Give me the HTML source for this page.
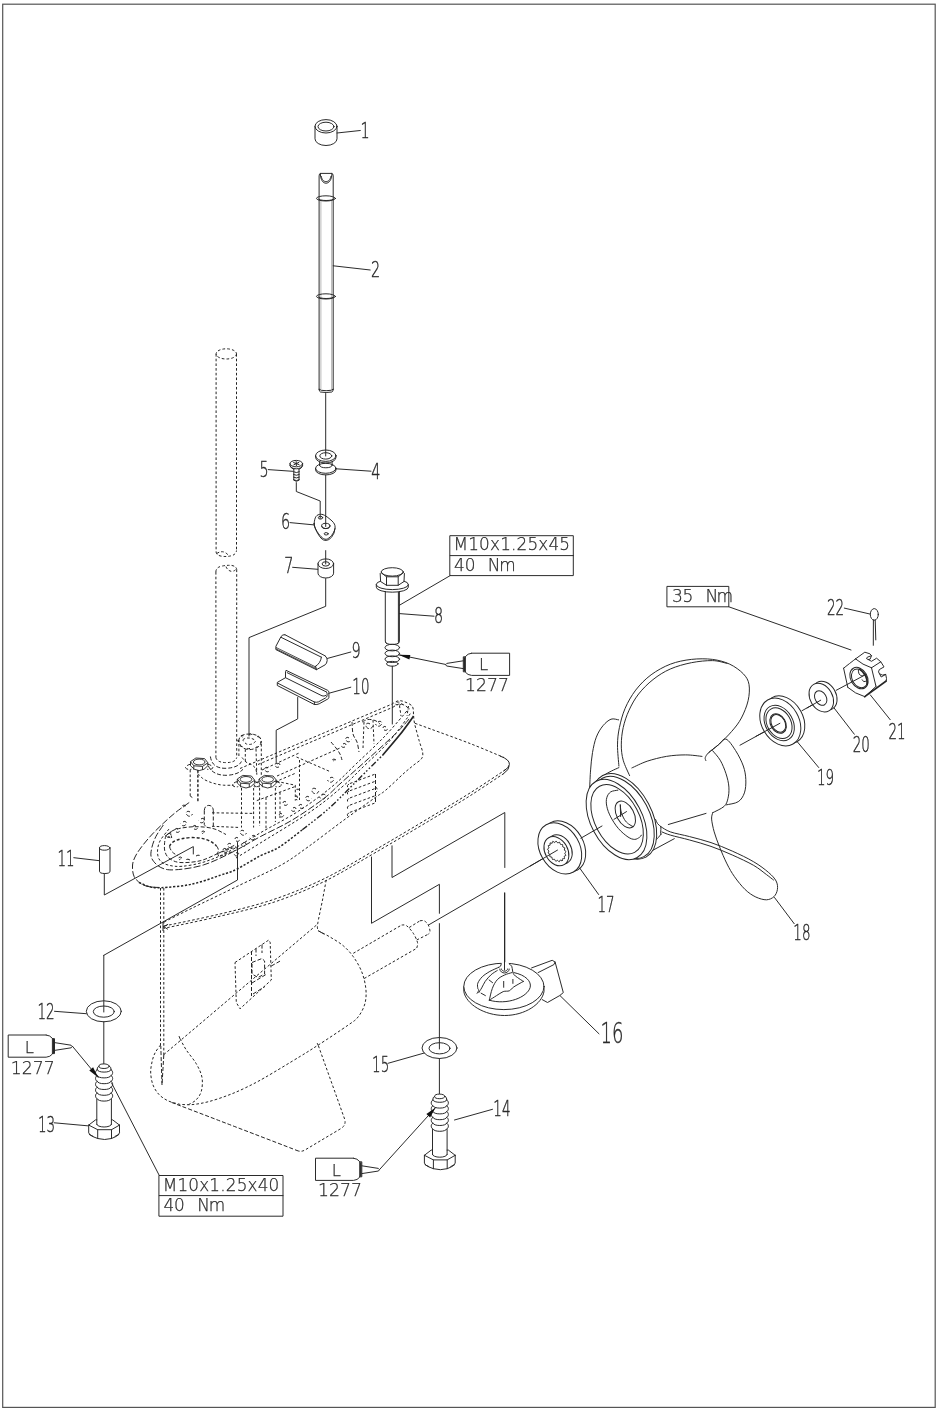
<!DOCTYPE html>
<html><head><meta charset="utf-8"><title>Lower unit exploded view</title>
<style>
html,body{margin:0;padding:0;background:#fff}
svg{display:block}
.s path,.s ellipse{fill:none;stroke:#262626;stroke-width:.98;stroke-linecap:round;stroke-linejoin:round}
.d path,.d ellipse{fill:none;stroke:#242424;stroke-width:1;stroke-dasharray:2.6 2.1}
.n{font-family:'DejaVu Sans Light','Liberation Sans',sans-serif;fill:#2a2a2a;stroke:#2a2a2a;stroke-width:.42;font-weight:200}
.t{font-family:'DejaVu Sans Light','Liberation Sans',sans-serif;fill:#2a2a2a;stroke:#2a2a2a;stroke-width:.25;font-weight:200}
.tx{opacity:.999}
</style></head><body>
<svg width="937" height="1409" viewBox="0 0 937 1409">
<rect x="0" y="0" width="937" height="1409" fill="#fff"/>
<rect x="2.7" y="4.2" width="932.5" height="1403.2" fill="none" stroke="#555" stroke-width="1.2"/>
<g class="d">
<ellipse cx="226.3" cy="353.9" rx="10.2" ry="5.1"/>
<path d="M216.1 354L216.1 552"/>
<path d="M236.5 354L236.5 550.5"/>
<path d="M216.05 552Q216.6 555.4 221.5 556.2Q227 557 232 555.6Q236.3 554 236.5 550.5"/>
<path d="M216.8 553.5Q221 550.6 225 552.4Q227.6 554 229 556"/>
<path d="M215.9 572Q215.9 567.6 221 566.3Q226.5 565 231.5 565.4Q236.3 566.2 236.7 569.5"/>
<path d="M226 566.6Q227.5 570.5 231.2 571.3Q235.6 571.4 236.3 568"/>
<path d="M215.9 572L215.9 757.5"/>
<path d="M236.7 569.5L236.7 757.5"/>
<path d="M215.9 757.5Q217 762.6 226.3 762.6Q235.6 762.6 236.7 757.5"/>
<path d="M210.4 756.5Q212 768.8 226.4 768.3Q238.5 767.6 241.4 761.5" style="stroke-dasharray:4 2"/>
<path d="M208.4 766Q213 775.6 227 775.3Q238 774.6 243 769.3" style="stroke-dasharray:4 2"/>
<path d="M197.9 773.7C198.7 774.5 200.8 777 202.5 778.3C204.2 779.6 206 780.5 208.2 781.4C210.4 782.3 212.9 783.2 215.5 783.8C218.1 784.4 220.4 785 223.5 785.2C226.6 785.4 232.1 785.2 233.8 785.2"/>
<path d="M197.9 770L197.9 801.8"/>
<path d="M207.9 762.8L202.5 766.4L193.8 765.8L190.5 761.6L195.9 758L204.6 758.6Z" style="stroke-dasharray:none;stroke-width:.9"/>
<path d="M190.5 761.6V765.7Q193.9 770.4 199.2 770.6Q204.5 770.4 207.9 765.7V762.8" style="stroke-dasharray:none;stroke-width:.9"/>
<path d="M193.8 765.8V769.8M202.5 766.4V769.8" style="stroke-dasharray:none;stroke-width:.9"/>
<ellipse cx="199.2" cy="762" rx="5.8" ry="2.9" style="stroke-dasharray:none;stroke-width:.9"/>
<path d="M190.9 764.2q-4 .5 -5.5 3.5q2 2.5 6 1.5M207.5 764.2q4 .5 5.5 3.5q-2 2.5 -6 1.5" style="stroke-dasharray:4 2"/>
<path d="M254.7 780.2L249.3 783.8L240.6 783.2L237.3 779L242.7 775.4L251.4 776Z" style="stroke-dasharray:none;stroke-width:.9"/>
<path d="M237.3 779V783.1Q240.7 787.8 246 788Q251.3 787.8 254.7 783.1V780.2" style="stroke-dasharray:none;stroke-width:.9"/>
<path d="M240.6 783.2V787.2M249.3 783.8V787.2" style="stroke-dasharray:none;stroke-width:.9"/>
<ellipse cx="246" cy="779.4" rx="5.8" ry="2.9" style="stroke-dasharray:none;stroke-width:.9"/>
<path d="M237.7 781.6q-4 .5 -5.5 3.5q2 2.5 6 1.5M254.3 781.6q4 .5 5.5 3.5q-2 2.5 -6 1.5" style="stroke-dasharray:4 2"/>
<path d="M276.4 780.2L271 783.8L262.3 783.2L259 779L264.4 775.4L273.1 776Z" style="stroke-dasharray:none;stroke-width:.9"/>
<path d="M259 779V783.1Q262.4 787.8 267.7 788Q273 787.8 276.4 783.1V780.2" style="stroke-dasharray:none;stroke-width:.9"/>
<path d="M262.3 783.2V787.2M271 783.8V787.2" style="stroke-dasharray:none;stroke-width:.9"/>
<ellipse cx="267.7" cy="779.4" rx="5.8" ry="2.9" style="stroke-dasharray:none;stroke-width:.9"/>
<path d="M259.4 781.6q-4 .5 -5.5 3.5q2 2.5 6 1.5M276 781.6q4 .5 5.5 3.5q-2 2.5 -6 1.5" style="stroke-dasharray:4 2"/>
<path d="M190.2 769.8L190.2 796"/>
<path d="M197.9 770.5L197.9 801.8"/>
<path d="M241.5 788L241.5 827.5"/>
<path d="M253.6 788L253.6 827.5"/>
<path d="M259.6 788L259.6 826"/>
<path d="M275.4 788L275.4 822"/>
<path d="M190.2 796l3.5 2.5"/>
<path d="M238.9 741.6C238.6 739.8 239.3 737.7 240.5 736.5C241.7 735.3 243.8 734.6 246 734.2C248.2 733.9 251.2 733.9 253.5 734.4C255.8 734.9 258.2 735.7 259.5 737C260.8 738.3 261.6 740.3 261.3 742C261.1 743.7 259.9 745.7 258 747C256.1 748.3 252.6 749.5 250 749.6C247.4 749.7 244.3 748.8 242.5 747.5C240.7 746.2 239.2 743.4 238.9 741.6Z" style="stroke-dasharray:4 2"/>
<path d="M243 740C243.1 739 245.5 738.2 247 738C248.5 737.8 250.6 738.1 252 738.6C253.4 739.1 255.5 740.1 255.5 741C255.5 741.9 253.5 743.5 252 744C250.5 744.5 248 744.7 246.5 744C245 743.3 242.9 741 243 740Z"/>
<path d="M260.6 741.8q0.7 -1.2 -0 1.6" style="stroke-dasharray:4 2"/>
<path d="M257.5 746.5q0.1 0.1 -2 1.1" style="stroke-dasharray:4 2"/>
<path d="M250 748.4q-1.5 0.6 -2.8 0" style="stroke-dasharray:4 2"/>
<path d="M242.5 746.5q-3.1 0.1 -2 -1.1" style="stroke-dasharray:4 2"/>
<path d="M239.4 741.8q-3.7 -1.2 -0 -1.6" style="stroke-dasharray:4 2"/>
<path d="M242.5 737.1q-3.1 -2.5 2 -1.1" style="stroke-dasharray:4 2"/>
<path d="M250 735.2q-1.5 -3 2.8 -0" style="stroke-dasharray:4 2"/>
<path d="M257.5 737.1q0.1 -2.5 2 1.1" style="stroke-dasharray:4 2"/>
<path d="M245.3 749.3L245.3 762"/>
<path d="M256 749L256.8 774.5"/>
<path d="M261.3 744L261.3 776"/>
<path d="M238.9 744L238.9 757"/>
<path d="M242 757.5C242.7 758.2 244.4 760.8 246 762C247.6 763.2 249.9 763.5 251.5 764.6C253.1 765.7 254.7 766.9 255.6 768.5C256.5 770.1 256.6 773.5 256.8 774.5"/>
<path d="M212 812.8L253 813.4"/>
<path d="M212 826.3L240.2 827.5"/>
<path d="M204.3 810.5Q204.6 805.6 208.8 805.4Q213 805.6 213.3 810.5M204.3 810.5V824.5q1.5 2.5 3.5 3M213.3 810.5V826" style="stroke-dasharray:4 2"/>
<path d="M256.8 800.6L295.3 786.5"/>
<path d="M276.7 781.4L295.3 785.2L295.3 800.6"/>
<path d="M280 792.2L280 818"/>
<path d="M266 797.4L266 830"/>
<path d="M189.2 802.5C186.9 804.2 179.8 809 175.5 812.5C171.2 816 167.3 819.5 163.3 823.3C159.3 827 155.1 831.1 151.5 835C147.9 838.9 144.4 843 141.7 846.7C138.9 850.4 136.5 853.8 135 857C133.5 860.2 132.6 862.7 132.5 866C132.4 869.3 132.7 873.7 134.2 876.7C135.7 879.7 138.9 882.5 141.7 884.2C144.5 885.9 147.7 886.5 151 887C154.3 887.5 159.9 887.4 161.7 887.5" style="stroke-dasharray:7 2.2"/>
<path d="M139 882.5C140.8 883.2 146.2 885.9 150 886.8C153.8 887.7 154.8 888.1 161.7 887.7C168.6 887.3 181.8 886.3 191.7 884.2C201.6 882.1 213.5 877.5 221 875C228.5 872.5 230.2 872.4 236.7 869.2C243.2 866 252.9 859.7 260 856C267.1 852.3 272.1 851.5 279.2 847.1C286.2 842.7 298.4 832.7 302.3 829.8" style="stroke-width:1.5;stroke-dasharray:2.2 1.7"/>
<path d="M302.3 829.8C306.6 826.4 319.8 816.4 327.9 809.3C336 802.2 344.6 793.1 350.7 787.1C356.8 781.1 359.2 778.5 364.5 773.2C369.8 767.9 379.7 758.1 382.7 755.1" style="stroke-width:1.4;stroke-dasharray:6 2 1.6 2 1.6 2 1.6 2"/>
<path d="M382.7 755.1C385.6 751.7 394.6 741.3 399.8 734.8C405 728.3 411.3 719.2 413.6 716.1" style="stroke-dasharray:none;stroke-width:1.7"/>
<path d="M163.3 825C162.1 827 157.7 832.8 155.8 836.7C153.9 840.6 152.4 844.7 151.7 848.3C151 851.9 150.2 855.1 151.7 858.3C153.2 861.5 156.9 865.6 160.8 867.5C164.7 869.4 167.9 870.2 175 869.8C182.1 869.4 193.6 868 203.3 865C213 862 223.9 856.4 233.3 851.7C242.8 847 250.2 842 260 836.8C269.8 831.5 281.3 826.6 292 820.2C302.7 813.8 316 804.5 324 798.4C332 792.3 332.5 790.6 340 783.9C347.5 777.2 359.4 766.8 368.8 758.3C378.2 749.8 389.8 739.3 396.6 732.7C403.4 726.1 407.4 720.9 409.5 718.5" style="stroke-dasharray:7 2.2"/>
<path d="M165.8 835C165.6 836.5 164.6 841.2 164.5 844C164.4 846.8 164.2 849.3 165 851.7C165.8 854.1 166.7 856.5 169.2 858.3C171.7 860.1 174.9 862.1 180 862.5C185.1 862.9 193.6 862.3 200 860.8C206.4 859.3 212.5 855.9 218.3 853.3C224.1 850.7 232.2 846.4 235 845" style="stroke-dasharray:4 2"/>
<path d="M169 829C167.5 831 161.9 837.2 160 841C158.1 844.8 157.5 848.8 157.5 852C157.5 855.2 158.2 858.3 160 860.5C161.8 862.7 164.3 864 168 865C171.7 866 176 866.8 182 866.3C188 865.8 196.3 864.4 204 862C211.7 859.6 218.7 856.8 228 852C237.3 847.2 248.3 839.8 260 833C271.7 826.2 286.4 818.9 298.4 811.2C310.3 803.5 322.1 794.8 331.7 786.9C341.3 779 347.1 772.5 356 764C364.9 755.5 376.2 745.2 385 736C393.8 726.8 405 713.1 409 708.5"/>
<path d="M236 858C240 855.5 247.5 851 260 843.2C272.5 835.4 297.5 820.6 311.2 811.2C324.9 801.8 333.5 794.2 342 787C350.5 779.8 354 775.8 362 768C370 760.2 381.8 749.8 390 740.5C398.2 731.2 407.9 716.8 411.5 712"/>
<path d="M240 768.5L391.7 704.2"/>
<path d="M258 764.5L393 707.2"/>
<path d="M262 770L300 752.6"/>
<path d="M277 776L340 748"/>
<path d="M391.7 704.2C392.8 703.6 396.1 701.2 398.3 700.8C400.5 700.4 402.6 701 405 702C407.4 703 411.1 704.2 412.5 706.7C413.9 709.2 413.3 715 413.5 716.7"/>
<path d="M393 707.2C393.9 706.7 396.6 704.5 398.5 704.2C400.4 703.9 402.6 704.3 404.5 705.2C406.4 706.1 409.1 708.8 410 709.5"/>
<ellipse cx="398.5" cy="703.6" rx="3.2" ry="1.5"/>
<path d="M399.5 705.5L401 716"/>
<path d="M408.5 706L407 716"/>
<path d="M169.5 846.5Q172 839 190 837.6Q208 837 216.5 846" style="stroke-width:1.4;stroke-dasharray:3 2"/>
<path d="M169.5 846.5Q171 853 178 855.5M216.5 846Q220 850 217 853.5" style="stroke-dasharray:4 2"/>
<path d="M166.5 835C168.1 834 171.2 830.7 176 829.3C180.8 827.9 188.8 826.8 195 826.7C201.2 826.6 207.8 827.2 213 828.5C218.2 829.8 223.8 833.5 226 834.5" style="stroke-dasharray:4 2"/>
<path d="M166.3 835.6L170.5 831.8L171.8 838.5Z"/>
<path d="M217.5 853.5L236 846.8L236.5 850L219 856.8Z"/>
<path d="M190 812c-2.5 -2 -5 0.5 -3 3c1.5 2 4.5 1.5 5.5 -1" style="stroke-dasharray:4 2"/>
<path d="M183 822c2.2 -1.8 4.5 0.5 2.7 2.7c-1.4 1.8 -4 1.4 -5 -0.9" style="stroke-dasharray:4 2"/>
<path d="M196 826c-2 -1.6 -4 0.4 -2.4 2.4c1.2 1.6 3.6 1.2 4.4 -0.8" style="stroke-dasharray:4 2"/>
<path d="M201 819c2.2 -1.8 4.5 0.5 2.7 2.7c-1.4 1.8 -4 1.4 -5 -0.9" style="stroke-dasharray:4 2"/>
<path d="M178 829c-2 -1.6 -4 0.4 -2.4 2.4c1.2 1.6 3.6 1.2 4.4 -0.8" style="stroke-dasharray:4 2"/>
<path d="M168 834c2 -1.6 4 0.4 2.4 2.4c-1.2 1.6 -3.6 1.2 -4.4 -0.8" style="stroke-dasharray:4 2"/>
<path d="M244 831c-2.5 -2 -5 0.5 -3 3c1.5 2 4.5 1.5 5.5 -1" style="stroke-dasharray:4 2"/>
<path d="M252 836c2.2 -1.8 4.5 0.5 2.7 2.7c-1.4 1.8 -4 1.4 -5 -0.9" style="stroke-dasharray:4 2"/>
<path d="M238 838c-2 -1.6 -4 0.4 -2.4 2.4c1.2 1.6 3.6 1.2 4.4 -0.8" style="stroke-dasharray:4 2"/>
<path d="M231 844c-2.2 -1.8 -4.5 0.5 -2.7 2.7c1.4 1.8 4 1.4 5 -0.9" style="stroke-dasharray:4 2"/>
<path d="M243 843c2 -1.6 4 0.4 2.4 2.4c-1.2 1.6 -3.6 1.2 -4.4 -0.8" style="stroke-dasharray:4 2"/>
<path d="M226 849c-2 -1.6 -4 0.4 -2.4 2.4c1.2 1.6 3.6 1.2 4.4 -0.8" style="stroke-dasharray:4 2"/>
<path d="M236 853c1.8 -1.4 3.5 0.3 2.1 2.1c-1 1.4 -3.1 1 -3.8 -0.7" style="stroke-dasharray:4 2"/>
<path d="M316 789c-2.8 -2.2 -5.5 0.6 -3.3 3.3c1.7 2.2 5 1.7 6.1 -1.1" style="stroke-dasharray:4 2"/>
<path d="M322 795c2.5 -2 5 0.5 3 3c-1.5 2 -4.5 1.5 -5.5 -1" style="stroke-dasharray:4 2"/>
<path d="M309 797c-2.2 -1.8 -4.5 0.5 -2.7 2.7c1.4 1.8 4 1.4 5 -0.9" style="stroke-dasharray:4 2"/>
<path d="M330 778c2.5 -2 5 0.5 3 3c-1.5 2 -4.5 1.5 -5.5 -1" style="stroke-dasharray:4 2"/>
<path d="M302 805c-2 -1.6 -4 0.4 -2.4 2.4c1.2 1.6 3.6 1.2 4.4 -0.8" style="stroke-dasharray:4 2"/>
<path d="M370 724c-2.8 -2.2 -5.5 0.6 -3.3 3.3c1.7 2.2 5 1.7 6.1 -1.1" style="stroke-dasharray:4 2"/>
<path d="M378 722c2.5 -2 5 0.5 3 3c-1.5 2 -4.5 1.5 -5.5 -1" style="stroke-dasharray:4 2"/>
<path d="M386 727c-2 -1.6 -4 0.4 -2.4 2.4c1.2 1.6 3.6 1.2 4.4 -0.8" style="stroke-dasharray:4 2"/>
<path d="M349 738c-2.2 -1.8 -4.5 0.5 -2.7 2.7c1.4 1.8 4 1.4 5 -0.9" style="stroke-dasharray:4 2"/>
<path d="M343 744c2 -1.6 4 0.4 2.4 2.4c-1.2 1.6 -3.6 1.2 -4.4 -0.8" style="stroke-dasharray:4 2"/>
<path d="M268 768c-2.2 -1.8 -4.5 0.5 -2.7 2.7c1.4 1.8 4 1.4 5 -0.9" style="stroke-dasharray:4 2"/>
<path d="M277 764c2 -1.6 4 0.4 2.4 2.4c-1.2 1.6 -3.6 1.2 -4.4 -0.8" style="stroke-dasharray:4 2"/>
<path d="M286 802c-2 -1.6 -4 0.4 -2.4 2.4c1.2 1.6 3.6 1.2 4.4 -0.8" style="stroke-dasharray:4 2"/>
<path d="M293 808c2 -1.6 4 0.4 2.4 2.4c-1.2 1.6 -3.6 1.2 -4.4 -0.8" style="stroke-dasharray:4 2"/>
<path d="M282 814c-1.8 -1.4 -3.5 0.3 -2.1 2.1c1 1.4 3.1 1 3.8 -0.7" style="stroke-dasharray:4 2"/>
<path d="M182 858q-2.3 -2.4 -3.7 0.4q0.9 2.6 2.3 0.2" style="stroke-dasharray:4 2"/>
<path d="M190 860q-2.2 -1.5 -3.6 -0.5q0.9 1.7 2.2 -0.3" style="stroke-dasharray:4 2"/>
<path d="M196 856q2.1 -1.3 3.4 -0.7q-0.9 1.5 -2.1 -0.3" style="stroke-dasharray:4 2"/>
<path d="M205 832q-2.3 -2.3 -3.7 0.3q0.9 2.5 2.3 0.2" style="stroke-dasharray:4 2"/>
<path d="M186 806q-2.4 -1.9 -3.8 -0.1q1 2.1 2.4 -0" style="stroke-dasharray:4 2"/>
<path d="M300 790q-2 -1.3 -3.3 -0.7q0.8 1.5 2 -0.4" style="stroke-dasharray:4 2"/>
<path d="M296 797q1 -3.3 1.5 1.3q-0.4 3.5 -1 0.7" style="stroke-dasharray:4 2"/>
<path d="M336 760q-2.4 -1.9 -3.8 -0.1q1 2.1 2.4 -0.1" style="stroke-dasharray:4 2"/>
<path d="M331 742C331.8 743 334.5 746 336 748C337.5 750 339 752 340 754C341 756 341.7 759 342 760" style="stroke-dasharray:4 2"/>
<path d="M352 722C352.2 724 352.2 730.7 353 734C353.8 737.3 356 739 357 742C358 745 358.7 750.3 359 752" style="stroke-dasharray:4 2"/>
<path d="M364 722L363 748"/>
<path d="M373 720L374 744"/>
<path d="M362 722C363 721.6 365.8 719.8 368 719.5C370.2 719.2 373 719.8 375 720.5C377 721.2 379.2 723.4 380 724" style="stroke-dasharray:4 2"/>
<path d="M299.5 760L299.5 800"/>
<path d="M296.5 757L331 772"/>
<path d="M275 782L296 773"/>
<path d="M413.6 716.1C413.8 717.5 413.8 720.2 414.7 724.2C415.6 728.2 417.7 734.9 419 740.2C420.3 745.5 423.7 752 422.7 756.2C421.7 760.4 416.1 762.8 413 765.6C409.9 768.4 408.5 769.1 404 773.2C399.5 777.3 390.7 785.9 385.9 790C381.1 794.1 382.4 792.4 375 797.7C367.6 803 352.8 813.5 341.7 821.7C330.6 829.9 318.4 839.5 308.3 846.7C298.2 853.9 292.6 858.6 281.2 865C269.8 871.4 254.9 877.8 240 885C225.1 892.2 204.4 902.1 191.7 908.3C178.9 914.5 168.2 920 163.5 922.3"/>
<path d="M349 783.9q-3.4 2.2 0 4.6" style="stroke-dasharray:4 2"/>
<path d="M350 783.5L375.5 774"/>
<path d="M349 791.1q-3.4 2.2 0 4.6" style="stroke-dasharray:4 2"/>
<path d="M350 790.7L375.5 781.2"/>
<path d="M349 798.3q-3.4 2.2 0 4.6" style="stroke-dasharray:4 2"/>
<path d="M350 797.9L375.5 788.4"/>
<path d="M349 805.5q-3.4 2.2 0 4.6" style="stroke-dasharray:4 2"/>
<path d="M350 805.1L375.5 795.6"/>
<path d="M349 812.7q-3.4 2.2 0 4.6" style="stroke-dasharray:4 2"/>
<path d="M350 812.3L375.5 802.8"/>
<path d="M375.5 774V803" style="stroke-dasharray:4 2"/>
<path d="M375.7 787q3 2.6 0 5.4"/>
<path d="M415 723.3C417.7 724.3 422 725.8 431.2 729.2C440.4 732.6 457.9 738.8 470 743.5C482.1 748.2 498.3 755.2 504 757.5"/>
<path d="M500 756Q509.8 759.6 509.4 764.4Q509 768 503.5 771M509.2 765.6Q509.4 769.6 503.6 773.6" style="stroke-dasharray:none"/>
<path d="M505.5 769.7C499.6 773.6 482.4 785.2 470 793C457.6 800.8 447 807.2 431.2 816.7C415.4 826.2 392.7 839.7 375 850C357.3 860.3 341.7 870.1 325 878.3C308.3 886.5 292.5 893 275 899C257.5 905 238.7 909.5 220 914C201.3 918.5 172.5 924.2 163 926.3"/>
<path d="M504 773.4C498.3 777.1 482.1 788.1 470 795.8C457.9 803.5 447 810.1 431.2 819.6C415.4 829.1 392.7 842.5 375 852.8C357.3 863 341.7 872.9 325 881.1C308.3 889.3 292.5 895.9 275 901.8C257.5 907.6 238.6 911.8 220 916.2C201.4 920.6 173 926.4 163.6 928.4"/>
<path d="M163 922V931" style="stroke-dasharray:none"/>
<path d="M163.5 926.5l4.6 -2.2M163.5 926.5l4.4 2.8" style="stroke-dasharray:none"/>
<path d="M160.5 888L160.5 1046"/>
<path d="M163.8 888L163.8 1055"/>
<path d="M163.8 1055L162 1085L160.8 1046" style="stroke-dasharray:4 2"/>
<path d="M326.2 880C325.6 883.3 323.9 892.6 322.5 900C321.1 907.4 318.3 919.4 317.6 924.5C316.9 929.6 318.2 929.8 318.3 930.8"/>
<path d="M318.3 930.8l6 3.4" style="stroke-dasharray:none"/>
<path d="M163.8 1054.6L317.5 924.2"/>
<path d="M318.3 930.8C320.2 931.8 325.8 934.5 330 937C334.2 939.5 339.4 942.5 343.3 945.8C347.2 949.1 350.2 952.4 353.3 956.7C356.4 961 359.6 966.4 361.7 971.7C363.8 977 365.2 983 365.8 988.3C366.4 993.6 366.2 998.6 365 1003.3C363.8 1008 361.1 1013.1 358.3 1016.7C355.5 1020.3 355 1020.3 348.3 1025C341.6 1029.7 326.4 1039.8 318.3 1045C310.2 1050.2 308.9 1051.1 300 1056.5C291.1 1061.9 274.2 1072.2 265 1077.5C255.8 1082.8 251.2 1085 245 1088C238.8 1091 233.7 1093.2 227.5 1095.5C221.3 1097.8 213.9 1100.3 208 1101.8C202.1 1103.3 196.7 1104.2 192 1104.6C187.3 1105 182 1104.4 180 1104.4"/>
<path d="M160.5 1045C159.6 1046.3 156.4 1050.2 155 1053C153.6 1055.8 152.7 1058.7 152 1062C151.3 1065.3 150.5 1069.2 150.7 1073C150.9 1076.8 151.6 1081.4 153 1085C154.4 1088.6 156.5 1091.9 159 1094.5C161.5 1097.1 164.5 1099.1 168 1100.8C171.5 1102.5 178 1103.8 180 1104.4"/>
<path d="M180 1038.7C181.1 1040.6 183.6 1045.8 186.3 1050C189 1054.2 193.7 1059.2 196.3 1063.8C198.9 1068.4 201.2 1072.9 202 1077.5C202.8 1082.1 202.3 1087.5 201.3 1091.3C200.3 1095 198.1 1097.8 196 1100C193.9 1102.2 189.8 1103.8 188.5 1104.6"/>
<path d="M180 1038.7l-1 -2.6" style="stroke-dasharray:none"/>
<path d="M171.5 1102.4C178.8 1105.2 203.6 1114.6 215 1119C226.4 1123.4 226.3 1123.3 240 1128.6C253.7 1133.8 287.5 1146.8 297 1150.5" style="stroke-dasharray:4 2"/>
<path d="M297 1150.5Q301 1152.3 305 1150L341 1128.5Q346.5 1125 344.6 1119L318.3 1045.5"/>
<path d="M318.3 1045.5l-1.6 -3.4"/>
<path d="M235 962.5L268.8 940L270.2 942.5L271.3 980L240 1008.8L236.3 1002.5Z"/>
<path d="M251.5 951V996M256 948.5V956M262 944.6V953" style="stroke-dasharray:4 2"/>
<path d="M252 962.5L262 958.5L264.6 961L264.6 974L258 977.5L252 974Z" style="stroke-dasharray:4 2"/>
<path d="M252 983l14 -8.5M253 994l12 -7.5M271.3 966l10 -5.6" style="stroke-dasharray:4 2"/>
<path d="M353.3 953.3L401.7 925"/>
<path d="M401.7 925C402.5 925.1 404.8 924.4 406.7 925.8C408.6 927.2 411.5 930.5 413.3 933.3C415.1 936.1 416.9 940 417.5 942.5C418.1 945 416.8 947.3 416.7 948.3"/>
<path d="M364.2 978.5L416.7 948.3"/>
<path d="M409.2 927.5L420 920.8"/>
<path d="M420 920.8C420.7 920.8 422.8 920.1 424.2 920.8C425.6 921.5 427.3 923.2 428.3 925C429.3 926.8 430 930.2 430 931.7C430 933.2 428.6 933.8 428.3 934.2"/>
<path d="M416.7 940L428.3 934.2"/>
</g>
<g class="s">
<ellipse cx="326" cy="126.3" rx="11" ry="6.7"/>
<ellipse cx="326" cy="126.6" rx="8" ry="4.4"/>
<path d="M315 126.3V138.8A11 6.7 0 0 0 337 138.8V126.3"/>
<path d="M337 133L360.3 130.5"/>
<path d="M320.3 173.4H331.9"/>
<path d="M319.1 389.5V176Q319.1 173.4 320.3 173.4"/>
<path d="M333.2 389.5V176Q333.2 173.4 331.9 173.4"/>
<path d="M320.4 174.2C320.6 180 323 183.2 326 183.2C329 183.2 331.6 180 331.9 174.2"/>
<path d="M321.3 176.5C322 180 323.8 181.6 326 181.6C328.3 181.6 330.2 180 330.9 176.5"/>
<path d="M320.9 201V389M331.6 201V389" style="stroke:#888;stroke-width:.6"/>
<ellipse cx="326" cy="198.4" rx="9.5" ry="2.6"/>
<path d="M318.5 199 A7.6 1.5 0 0 0 333.7 199"/>
<ellipse cx="326" cy="296.4" rx="9.5" ry="2.6"/>
<path d="M318.5 297 A7.6 1.5 0 0 0 333.7 297"/>
<path d="M319.1 389.3A7.1 1.6 0 0 0 333.2 389.3"/>
<path d="M319.1 389.5Q319.4 391.8 320.4 392A8 1.4 0 0 0 331.9 392Q333 391.8 333.2 389.5"/>
<path d="M333.2 265.8L370.2 270"/>
<path d="M325.7 393.5L325.7 456"/>
<ellipse cx="325.8" cy="455.7" rx="10.2" ry="5.7"/>
<ellipse cx="325.8" cy="455.9" rx="6" ry="3.2"/>
<path d="M315.6 455.7V457.3A10.2 5.7 0 0 0 336 457.3V455.7"/>
<path d="M319.6 462V465.5"/>
<path d="M332.1 462V465.5"/>
<path d="M319.6 465.5A6.3 2.6 0 0 0 332.1 465.5"/>
<ellipse cx="325.8" cy="468.3" rx="10.2" ry="5"/>
<path d="M315.6 468.3V469.9A10.2 5 0 0 0 336 469.9V468.3"/>
<path d="M336 468.8L371 471.2"/>
<path d="M325.7 475L325.7 526.5"/>
<ellipse cx="296.3" cy="463.6" rx="6.3" ry="3.2"/>
<path d="M290 463.6V465.6Q291 468.6 293.8 469.2"/>
<path d="M302.6 463.6V465.6Q301.6 468.6 299 469.2"/>
<path d="M290 465.6A6.3 3.2 0 0 0 302.6 465.6"/>
<path d="M293.8 469.2V480.2Q296.3 482.4 299 480.2V469.2"/>
<path d="M293.5 471.8Q296.4 473.5 299.3 471.8"/>
<path d="M293.5 474.5Q296.4 476.2 299.3 474.5"/>
<path d="M293.5 477.2Q296.4 478.9 299.3 477.2"/>
<path d="M293.5 479.8Q296.4 481.5 299.3 479.8"/>
<path d="M293.6 462.6L299 464.6M293.8 464.8L298.8 462.4M296.2 461.6L296.4 465.6"/>
<path d="M268.2 469.6L292.6 471.3"/>
<path d="M296.3 482.6L296.3 491.5L320.2 501L320.2 518.4"/>
<path d="M314.2 523.5C314.2 521.3 314.9 518 316 516.5C317.1 515 318.9 514.3 320.6 514.3C322.3 514.2 323.9 514.8 326 516.2C328.1 517.6 332 520.6 333.5 522.6C335 524.6 335.3 526.4 335 528.5C334.7 530.6 333 533.7 331.5 535.5C330 537.3 327.9 539.1 326.2 539.3C324.4 539.5 322.7 538.2 321 536.6C319.3 535 317.1 531.8 316 529.6C314.9 527.4 314.2 525.7 314.2 523.5Z"/>
<path d="M314.2 523.5V525.2C315 529 318 534.5 321 538.2Q326.2 543.2 331.5 537.3Q334.8 533.5 335 528.5"/>
<ellipse cx="325.8" cy="525.9" rx="4.2" ry="2.6"/>
<path d="M322 526.6A3.8 2 0 0 0 329.6 526.6"/>
<ellipse cx="326.2" cy="533.8" rx="2" ry="1.2"/>
<ellipse cx="320.5" cy="517.7" rx="2.2" ry="1.4"/>
<path d="M290 522.6L314 524.9"/>
<path d="M325.7 550.6L325.7 564"/>
<ellipse cx="325.8" cy="563.7" rx="7.8" ry="4.8"/>
<ellipse cx="325.8" cy="563.9" rx="3.7" ry="2.2"/>
<path d="M318 563.7V573.2A7.8 4.8 0 0 0 333.6 573.2V563.7"/>
<path d="M292.6 567.3L317.8 569.3"/>
<path d="M325.7 578.6L325.7 606.3L249 637.6L249 736"/>
<ellipse cx="392.3" cy="571.9" rx="11" ry="4.2"/>
<path d="M380.2 573.5L380.6 581.5L386.5 585.3L398.2 585.3L404 581.5L404.4 573.5"/>
<path d="M381 572.5L386.5 576.8H398.2L403.6 572.5"/>
<path d="M386.5 576.8L386.5 585.3"/>
<path d="M398.2 576.8L398.2 585.3"/>
<path d="M380.5 581.2Q376.3 582.2 376.3 584.6A16 5 0 0 0 408.3 584.6Q408.3 582.2 404.1 581.2"/>
<path d="M376.3 584.6V587.2A16 5 0 0 0 408.3 587.2V584.6"/>
<path d="M385.3 591.5V641Q385.3 643 386.6 643.6"/>
<path d="M399.4 591.5V641Q399.4 643 398 643.6"/>
<path d="M398.4 592L398.4 642"/>
<path d="M385.8 642.6A6.6 2.2 0 0 0 398.8 642.6"/>
<ellipse cx="392.3" cy="647.6" rx="7.3" ry="3.3"/>
<ellipse cx="392.3" cy="653.4" rx="7.3" ry="3.3"/>
<ellipse cx="392.3" cy="659.2" rx="7.3" ry="3.3"/>
<ellipse cx="392.3" cy="663.8" rx="5.8" ry="2.4"/>
<path d="M392.3 666.2L392.3 724"/>
<path d="M399.5 613.6L434 616.2"/>
<path d="M399.5 605.2L450.2 575.6"/>
<path d="M450.2 535.7H573.3V575.6H450.2ZM450.2 555.6H573.3"/>
<path d="M471.6 653.2L509.6 653.2L509.6 675.4L471.6 675.4Q467.6 675.1 465.4 672.2L465.4 656.6Q467.6 653.5 471.6 653.2"/>
<path d="M465.4 656.8H463.3V671.8H465.4"/>
<path d="M464.3 657.2V671.4" style="stroke-width:1.5;stroke-linecap:butt"/>
<path d="M463.3 660.8L446.8 663.4Q444.6 664.6 446.6 666L463.3 668.6"/>
<path d="M445.4 664.4L398.6 654.8"/>
<path d="M284.9 634.7L325.2 655.9"/>
<path d="M325.2 655.9Q327.6 658 327.2 660.5Q326.8 663.6 325.2 664.8L316.4 669.7L275.9 649.6V646.3L281 636.6Q282.6 634.2 284.9 634.7"/>
<path d="M281.2 637.4L321.4 657.2"/>
<path d="M321.4 657.2Q320.6 663.2 315.6 666.3"/>
<path d="M276.3 647.6L315.8 667M276.1 648.9L316.1 668.5" style="stroke-width:.8"/>
<path d="M315.6 666.3L316.4 669.7"/>
<path d="M327.5 658.4L350.8 652"/>
<path d="M286.4 670.5L327.6 690.3Q329 691 328.9 692.4V697.4Q328.8 698.5 327.8 699L319.2 703.8Q317 704.8 314.4 704.5L277.3 685.5V682.4L285.5 677.7V671.4Q285.5 670.2 286.4 670.5"/>
<path d="M287.2 672.7L326.3 691.9"/>
<path d="M326.3 691.9Q327.2 692.4 327.1 693.6V695.6Q326.8 697.2 325.6 697.9L318.6 701.8Q316.6 702.6 314.4 702L277.8 683.2"/>
<path d="M285.5 677.7L322 695.8Q324 696.6 325.8 695.5"/>
<path d="M314.4 702L314.4 704.5"/>
<path d="M328.8 693.3L350.8 687.2"/>
<path d="M297.7 697.5L297.7 718.9L276.2 730.2L276.2 762.5"/>
<ellipse cx="104.7" cy="847.9" rx="5.2" ry="2.3"/>
<path d="M99.5 847.9V871.2A5.25 2.3 0 0 0 110 871.2V847.9"/>
<path d="M73.8 857.7L99.5 860.7"/>
<path d="M104.3 873.8L104.3 895L193.3 846.6L193.3 854"/>
<ellipse cx="103.8" cy="1011.3" rx="17.5" ry="10.5"/>
<ellipse cx="103.8" cy="1011.6" rx="10.5" ry="5.6"/>
<ellipse cx="439.5" cy="1048" rx="17.5" ry="10.5"/>
<ellipse cx="439.5" cy="1048.3" rx="10.5" ry="5.6"/>
<path d="M54.5 1011.3L86.3 1013.7"/>
<path d="M388 1063.3L424.3 1053"/>
<ellipse cx="104.1" cy="1066.2" rx="5.2" ry="2.3"/>
<path d="M98.9 1066.2Q96.7 1066.8 97.1 1069.8"/>
<path d="M109.3 1066.2Q111.5 1066.8 111.1 1069.8"/>
<path d="M97.1 1069.8A7.2 3 0 0 0 111.1 1069.8"/>
<path d="M97.1 1069.8C94.9 1071 94.9 1074.4 97.1 1075.6"/>
<path d="M111.1 1069.8C113.3 1071 113.3 1074.4 111.1 1075.6"/>
<path d="M97.1 1075.6A7.2 3 0 0 0 111.1 1075.6"/>
<path d="M97.1 1075.6C94.9 1076.8 94.9 1080.2 97.1 1081.4"/>
<path d="M111.1 1075.6C113.3 1076.8 113.3 1080.2 111.1 1081.4"/>
<path d="M97.1 1081.4A7.2 3 0 0 0 111.1 1081.4"/>
<path d="M97.1 1081.4C94.9 1082.6 94.9 1086 97.1 1087.2"/>
<path d="M111.1 1081.4C113.3 1082.6 113.3 1086 111.1 1087.2"/>
<path d="M97.1 1087.2A7.2 3 0 0 0 111.1 1087.2"/>
<path d="M97.1 1087.2C94.9 1088.4 94.9 1091.8 97.1 1093"/>
<path d="M111.1 1087.2C113.3 1088.4 113.3 1091.8 111.1 1093"/>
<path d="M97.1 1093A7.2 3 0 0 0 111.1 1093"/>
<path d="M97.1 1093C94.9 1094.2 94.9 1097.6 97.1 1098.8"/>
<path d="M111.1 1093C113.3 1094.2 113.3 1097.6 111.1 1098.8"/>
<path d="M97.1 1098.8A7.2 3 0 0 0 111.1 1098.8"/>
<path d="M96.8 1099.3V1124.4"/>
<path d="M111.4 1099.3V1124.4"/>
<path d="M96.8 1124.4A7.3 2.6 0 0 0 111.4 1124.4"/>
<path d="M88.7 1125.1L95.5 1119.9H96.8"/>
<path d="M111.4 1119.9H112.7L119.5 1125.1"/>
<path d="M88.7 1125.1L97.7 1129.7H111.5L119.5 1125.1"/>
<path d="M88.7 1125.1V1132.9Q89.6 1135.4 93.1 1136.4"/>
<path d="M119.5 1125.1V1132.9Q118.6 1135.4 115.1 1136.4"/>
<path d="M97.7 1129.7L97.7 1138.5"/>
<path d="M111.5 1129.7L111.5 1138.5"/>
<path d="M89.3 1134.5Q93.1 1137.1 97.7 1138.5Q104.6 1140.5 111.5 1138.5Q115.6 1137.1 118.9 1134.5"/>
<ellipse cx="439.8" cy="1096.4" rx="5.2" ry="2.3"/>
<path d="M434.6 1096.4Q432.4 1097 432.8 1100"/>
<path d="M445 1096.4Q447.2 1097 446.8 1100"/>
<path d="M432.8 1100A7.2 3 0 0 0 446.8 1100"/>
<path d="M432.8 1100C430.6 1101.2 430.6 1104.6 432.8 1105.8"/>
<path d="M446.8 1100C449 1101.2 449 1104.6 446.8 1105.8"/>
<path d="M432.8 1105.8A7.2 3 0 0 0 446.8 1105.8"/>
<path d="M432.8 1105.8C430.6 1107 430.6 1110.4 432.8 1111.6"/>
<path d="M446.8 1105.8C449 1107 449 1110.4 446.8 1111.6"/>
<path d="M432.8 1111.6A7.2 3 0 0 0 446.8 1111.6"/>
<path d="M432.8 1111.6C430.6 1112.8 430.6 1116.2 432.8 1117.4"/>
<path d="M446.8 1111.6C449 1112.8 449 1116.2 446.8 1117.4"/>
<path d="M432.8 1117.4A7.2 3 0 0 0 446.8 1117.4"/>
<path d="M432.8 1117.4C430.6 1118.6 430.6 1122 432.8 1123.2"/>
<path d="M446.8 1117.4C449 1118.6 449 1122 446.8 1123.2"/>
<path d="M432.8 1123.2A7.2 3 0 0 0 446.8 1123.2"/>
<path d="M432.8 1123.2C430.6 1124.4 430.6 1127.8 432.8 1129"/>
<path d="M446.8 1123.2C449 1124.4 449 1127.8 446.8 1129"/>
<path d="M432.8 1129A7.2 3 0 0 0 446.8 1129"/>
<path d="M432.5 1129.5V1154.6"/>
<path d="M447.1 1129.5V1154.6"/>
<path d="M432.5 1154.6A7.3 2.6 0 0 0 447.1 1154.6"/>
<path d="M424.4 1155.3L431.2 1150.1H432.5"/>
<path d="M447.1 1150.1H448.4L455.2 1155.3"/>
<path d="M424.4 1155.3L433.4 1159.9H447.2L455.2 1155.3"/>
<path d="M424.4 1155.3V1163.1Q425.3 1165.6 428.8 1166.6"/>
<path d="M455.2 1155.3V1163.1Q454.3 1165.6 450.8 1166.6"/>
<path d="M433.4 1159.9L433.4 1168.7"/>
<path d="M447.2 1159.9L447.2 1168.7"/>
<path d="M425 1164.7Q428.8 1167.3 433.4 1168.7Q440.3 1170.7 447.2 1168.7Q451.3 1167.3 454.6 1164.7"/>
<path d="M54.1 1122.8L87.6 1125.8"/>
<path d="M454.5 1120L492.5 1109.3"/>
<path d="M103.8 955.3L103.8 1012"/>
<path d="M103.8 1021.6L103.8 1063.5"/>
<path d="M103.8 955.3L237.5 880L237.5 842.5"/>
<path d="M439.4 923.6L439.4 1049"/>
<path d="M439.4 1058.6L439.4 1093.6"/>
<path d="M46.2 1035L8.2 1035L8.2 1057.2L46.2 1057.2Q50.2 1056.9 52.4 1054L52.4 1038.4Q50.2 1035.3 46.2 1035"/>
<path d="M52.4 1038.6H54.5V1053.6H52.4"/>
<path d="M53.5 1039V1053.2" style="stroke-width:1.5;stroke-linecap:butt"/>
<path d="M54.5 1042.6L71 1045.2Q73.2 1046.4 71.2 1047.8L54.5 1050.4"/>
<path d="M72.4 1046.2L98.2 1077.4"/>
<path d="M353.5 1158.2L315.5 1158.2L315.5 1180.4L353.5 1180.4Q357.5 1180.1 359.7 1177.2L359.7 1161.6Q357.5 1158.5 353.5 1158.2"/>
<path d="M359.7 1161.8H361.8V1176.8H359.7"/>
<path d="M360.8 1162.2V1176.4" style="stroke-width:1.5;stroke-linecap:butt"/>
<path d="M361.8 1165.8L378.3 1168.4Q380.5 1169.6 378.5 1171L361.8 1173.6"/>
<path d="M379.7 1169.4L435.6 1107.6"/>
<path d="M159.3 1175.5H283V1216.2H159.3ZM159.3 1195.6H283"/>
<path d="M111.8 1083.4L159.3 1175.5"/>
<path d="M667.3 586.4H728.8V606.8H667.3Z"/>
<path d="M728.8 606.8L851 650"/>
<path d="M392 845.8L392 877.5L504.8 812.5L504.8 867.5"/>
<path d="M504.8 893L504.8 969.5"/>
<path d="M371.5 857L371.5 923.3L439.4 884.3L439.4 913.3"/>
<path d="M428.5 925L557.4 850.2"/>
<ellipse cx="563.8" cy="846.5" rx="27.3" ry="19.8" transform="rotate(60 563.8 846.5)" style="fill:#fff"/>
<ellipse cx="559.8" cy="848.4" rx="27.3" ry="19.8" transform="rotate(60 559.8 848.4)" style="fill:#fff"/>
<ellipse cx="559.8" cy="849.3" rx="15.5" ry="11.3" transform="rotate(60 559.8 849.3)" style="fill:#fff"/>
<ellipse cx="556.4" cy="851.2" rx="15.5" ry="11.3" transform="rotate(60 556.4 851.2)" style="fill:#fff"/>
<path d="M562.2 860.8C561.9 861.1 560.7 859.9 560.2 860.1C559.7 860.2 559.6 861.7 559.2 861.8C558.7 861.8 557.9 860.3 557.4 860.3C556.8 860.2 556.2 861.5 555.8 861.3C555.3 861.1 555 859.6 554.5 859.3C553.9 859 552.9 859.8 552.5 859.5C552.1 859.2 552.3 857.7 551.9 857.2C551.4 856.7 550.1 857.1 549.8 856.6C549.5 856.1 550.2 855 549.9 854.4C549.6 853.8 548.2 853.5 548.1 853C547.9 852.5 549 851.8 548.9 851.1C548.8 850.5 547.5 849.7 547.5 849.2C547.5 848.6 548.9 848.5 549 847.9C549.1 847.3 548 846.1 548.2 845.7C548.4 845.2 549.8 845.6 550.1 845.2C550.4 844.7 549.7 843.2 550.1 842.9C550.4 842.6 551.7 843.5 552.1 843.3C552.6 843 552.4 841.5 552.8 841.3C553.3 841.2 554.2 842.5 554.8 842.5C555.3 842.4 555.6 841 556.1 841.1C556.6 841.2 557.1 842.7 557.7 842.9C558.3 843.1 559.1 842 559.5 842.2C560 842.5 560 844 560.5 844.4C561 844.8 562.2 844.2 562.6 844.6C562.9 845 562.4 846.4 562.8 846.9C563.2 847.5 564.6 847.4 564.8 847.9C565.1 848.5 564.1 849.4 564.3 850C564.5 850.7 565.9 851.2 566 851.7C566.1 852.3 564.8 852.7 564.8 853.3C564.8 853.9 566 854.9 565.9 855.4C565.8 855.9 564.4 855.8 564.2 856.3C564 856.9 564.9 858.2 564.6 858.6C564.3 859 563 858.3 562.6 858.7C562.2 859.1 562.6 860.6 562.2 860.8Z"/>
<path d="M530 866.2L557.5 850.1"/>
<path d="M579.7 868.1L598.6 894.5"/>
<path d="M618.6 719.9C617.3 719.8 613.6 718.2 611 719.2C608.4 720.2 605.5 722.7 603 725.7C600.5 728.7 598 732.7 596.3 737.2C594.5 741.7 593.5 747.2 592.5 752.6C591.5 758 591.1 764.2 590.6 769.9C590.1 775.6 589.9 784.1 589.7 787"/>
<path d="M618.9 766C618.7 762.5 617.4 751.3 617.5 744.9C617.6 738.5 618.1 733.7 619.4 727.6C620.7 721.5 622.4 714.6 625.1 708.4C627.8 702.1 631.4 695.7 635.7 690.1C640 684.5 645.3 679.1 651.1 674.8C656.9 670.5 663.6 666.8 670.3 664.2C677 661.6 684.4 660.2 691.4 659.4C698.4 658.6 706.1 658.6 712.5 659.4C718.9 660.2 724.7 661.8 729.8 664.2C734.9 666.6 740.1 670.4 743.3 673.8C746.5 677.2 748.2 679.9 749 684.4C749.8 688.9 749.4 695.1 748.1 700.7C746.8 706.3 744.1 712.9 741.4 718C738.7 723.1 735.6 726.9 731.7 731.4C727.9 735.9 722.1 741.4 718.3 744.9C714.5 748.4 710.9 750.5 708.7 752.6C706.5 754.7 705.8 756.2 705.3 757.5C704.8 758.8 705.8 760.1 705.9 760.6"/>
<path d="M629.6 775.6C628.5 773 624.6 765.3 623.2 760.2C621.8 755.1 621.3 750.3 621.3 744.9C621.3 739.5 621.9 733.4 623.2 727.6C624.5 721.8 626.4 715.9 629 710.3C631.6 704.7 634.6 699.1 638.6 694C642.6 688.9 647.7 683.8 653 679.6C658.3 675.4 663.9 671.8 670.3 669C676.7 666.2 684.4 664.1 691.4 662.7C698.4 661.3 706.6 660.5 712.5 660.6C718.4 660.7 724.6 662.9 727 663.4"/>
<path d="M589.7 787C590.8 786 593.6 783 596 781C598.4 779 601.4 776.9 604 775.2C606.6 773.5 609 772.3 611.5 771C614 769.7 617.7 768.2 618.9 767.6"/>
<path d="M631.9 767.9C634.5 766.8 641.5 763.1 647.2 761.2C653 759.3 660 757.5 666.4 756.4C672.8 755.3 679.7 754.9 685.6 754.9C691.5 754.9 699.3 756.1 702 756.4"/>
<path d="M712.5 750.6C713.8 752.2 718 756.4 720.2 760.2C722.5 764.1 724.5 769.2 726 773.7C727.5 778.2 728.6 782.9 728.9 787.1C729.2 791.3 728.7 795.5 727.9 798.7C727.1 801.9 726.6 804.1 724.1 806.4C721.6 808.7 714.6 811.7 712.7 812.7"/>
<path d="M708.7 752.6C710.3 751.3 715.4 747.1 718.3 744.9C721.2 742.6 723.1 738.1 726 739.1C728.9 740.1 732.7 746.1 735.6 750.6C738.5 755.1 741.6 761.2 743.3 766C745 770.8 745.6 775 745.8 779.5C746 784 745.7 789.2 744.4 792.9C743.1 796.6 741.2 799.7 738.2 801.7C735.2 803.7 728.5 804.3 726.5 804.8"/>
<path d="M668.3 824.5L706 813.4"/>
<path d="M637.8 858.4L674.3 838.7"/>
<path d="M660.8 826.6C662.4 827.5 665.6 830.2 670.4 831.9C675.2 833.6 682.8 834.8 689.6 836.6C696.4 838.4 703.9 840.2 711 842.6C718.1 845 725.2 847.9 732.3 851.1C739.4 854.3 747.7 858.2 753.7 861.8C759.8 865.4 764.9 869.3 768.6 872.5C772.3 875.7 774.6 878.2 776.1 881C777.6 883.8 777.8 886.9 777.4 889.5C777 892.1 775.8 894.9 774 896.6C772.2 898.3 769.5 899.7 766.5 899.8C763.5 899.9 759.4 898.7 755.8 897C752.2 895.3 748.6 892.9 745.1 889.5C741.6 886.1 737.5 881 734.5 876.7C731.5 872.4 729.5 868.9 727 863.9C724.5 858.9 721.6 852.1 719.5 846.8C717.4 841.5 715.5 836.5 714.2 831.9C712.9 827.3 711.9 822.3 711.6 819.1C711.4 815.9 712.5 813.8 712.7 812.7"/>
<path d="M661.9 831.9C663.3 832.4 665.8 833.8 670.4 835.1C675 836.5 682.8 838.1 689.6 840C696.4 841.9 703.9 843.9 711 846.4C718.1 848.9 725.2 851.8 732.3 855C739.4 858.2 748 862.1 753.7 865.4C759.4 868.7 763.2 872.2 766.5 874.6C769.8 877 772.3 879.1 773.5 880"/>
<path d="M660.8 826.6Q661.2 829.5 660.6 831.9L660.9 834.4"/>
<path d="M660.8 826.6C660.2 826.1 658.4 824.7 657.5 823.5C656.6 822.3 655.9 820.2 655.6 819.5"/>
<path d="M661.2 834C660.8 834.5 659.3 836.4 658.5 837.3C657.7 838.2 656.9 839 656.6 839.4"/>
<ellipse cx="624.3" cy="816.3" rx="46.2" ry="27.3" transform="rotate(62 624.3 816.3)" style="fill:#fff"/>
<ellipse cx="623.1" cy="817.4" rx="44.4" ry="26.2" transform="rotate(62 623.1 817.4)"/>
<ellipse cx="616.5" cy="819.5" rx="43.3" ry="25.6" transform="rotate(62 616.5 819.5)" style="fill:#fff"/>
<ellipse cx="617.1" cy="819.3" rx="37.4" ry="22.1" transform="rotate(62 617.1 819.3)"/>
<path d="M641.4 835.1C641.1 835.5 640.6 836.6 639.5 837.3C638.4 838 636.6 839.4 634.7 839.4C632.8 839.4 630.7 838.8 628 837C625.3 835.2 621.2 831.8 618.3 828.4C615.4 825 612.6 820.6 610.7 816.9C608.8 813.2 607.4 809.5 606.8 806.3C606.1 803.1 606.1 800.1 606.8 797.7C607.4 795.3 608.9 793.1 610.7 791.9C612.6 790.6 616.7 790.5 617.9 790.2"/>
<ellipse cx="625.3" cy="814.5" rx="14.5" ry="8.6" transform="rotate(62 625.3 814.5)"/>
<path d="M620.3 804.9C620.4 806.1 620.5 809.5 621.2 812C621.9 814.5 623.3 817.6 624.5 819.6C625.7 821.6 627.2 822.9 628.6 824C630 825.1 632.1 826.1 632.8 826.5"/>
<path d="M614 819.3L626.5 811.6"/>
<path d="M580.9 838.2L602 826"/>
<path d="M620.3 804.9L620.6 816.5"/>
<path d="M774.5 897.5L794.2 923.7"/>
<path d="M740 745.2L779.9 723.3"/>
<ellipse cx="784.3" cy="719.8" rx="25.4" ry="18.6" transform="rotate(60 784.3 719.8)" style="fill:#fff"/>
<ellipse cx="780.3" cy="722" rx="25.4" ry="18.6" transform="rotate(60 780.3 722)" style="fill:#fff"/>
<ellipse cx="779.2" cy="723" rx="18.9" ry="13.7" transform="rotate(60 779.2 723)"/>
<ellipse cx="779" cy="723.2" rx="16.3" ry="11.8" transform="rotate(60 779 723.2)"/>
<ellipse cx="778.1" cy="723.5" rx="10.4" ry="7.5" transform="rotate(60 778.1 723.5)"/>
<ellipse cx="778.3" cy="723.4" rx="9.4" ry="6.7" transform="rotate(60 778.3 723.4)"/>
<path d="M756 736.3L779.9 723.3"/>
<path d="M802 710.7L820.7 700.2"/>
<path d="M797.5 742L818.7 767.5"/>
<ellipse cx="824.8" cy="695.6" rx="15.3" ry="11.1" transform="rotate(60 824.8 695.6)" style="fill:#fff"/>
<ellipse cx="821.3" cy="697.6" rx="15.3" ry="11.1" transform="rotate(60 821.3 697.6)" style="fill:#fff"/>
<ellipse cx="820.7" cy="698" rx="7.8" ry="5.6" transform="rotate(60 820.7 698)"/>
<path d="M807 708L820.7 700.2"/>
<path d="M836.2 690.3L865.1 674.9"/>
<path d="M834 707.9L854.3 734.2"/>
<path d="M855.5 658.9L864.8 652.2L869.9 653.8L871.5 655.7L867.3 657.2L866.5 658.6L871.5 661.3L876.6 658.2L880.8 661.8L884 666.9L879.3 669.6L878.5 671.9L881.2 677L885.7 674.4L886.5 678.4L886.2 681"/>
<path d="M871.5 655.7L870.1 659.2L868.3 659.5"/>
<path d="M885.7 674.4L882.4 675.1L879.8 673.9"/>
<path d="M871.5 667.8L880.8 661.8"/>
<path d="M864.8 696.7L886.2 681" style="stroke-width:1.6"/>
<path d="M843.6 668.2C845.6 666.6 853.5 660.4 855.5 658.9"/>
<path d="M855.5 658.9Q862.5 665 871.5 667.8"/>
<path d="M871.5 667.8L876 686.4"/>
<path d="M876 686.4L864.8 696.7"/>
<path d="M864.8 696.7Q854.8 693.8 847.8 687.4"/>
<path d="M847.8 687.4L843.6 668.2"/>
<ellipse cx="859" cy="678.1" rx="11.4" ry="8.3" transform="rotate(60 859 678.1)"/>
<ellipse cx="859.4" cy="678.3" rx="10" ry="7.2" transform="rotate(60 859.4 678.3)"/>
<path d="M858.4 670.1C858.5 670.7 858.4 673 859 673.9C859.6 674.9 861 675.7 861.9 675.9C862.8 676 864 674.8 864.4 674.6"/>
<path d="M862.2 679.7C862.5 680 863.1 681.4 863.8 681.6C864.5 681.8 865.9 681.1 866.4 681"/>
<path d="M859.3 669.1Q867 673.9 867.3 684.2" style="stroke-width:1.5"/>
<path d="M870.3 694.9L890.2 719.7"/>
<ellipse cx="874.3" cy="614.4" rx="4" ry="5.8"/>
<path d="M873.4 620L873.3 645.3"/>
<path d="M875.2 620L875.8 639.9"/>
<path d="M844.3 608.1L870.3 614.1"/>
<path d="M531.6 967.9L552.2 960.3L555.1 962L563.3 992.6L559.8 995.5L547.5 1002.5L542.2 999.6"/>
<path d="M538.1 972.6L553.9 964.6L555.1 962"/>
<path d="M463.8 986.5V991.5C466 1004 484 1015.5 504.6 1015.5C525 1015.5 542 1004 544 991.5V986.5" style="fill:#fff"/>
<ellipse cx="503.9" cy="986.4" rx="40.1" ry="23.2" style="fill:#fff"/>
<path d="M501.3 963.3L509.1 963.3" style="stroke:#fff;stroke-width:2.4;stroke-linecap:butt"/>
<path d="M514 972.6C525.7 975 531.6 981.4 530.2 987.3C527.5 997.3 507 1005.5 489.3 1000.2"/>
<path d="M498.7 967.3C497.3 968 492.7 969.9 489.9 971.4C487.2 973 484.3 974.8 482.3 976.7C480.3 978.7 478.6 981.2 477.8 983.2C477.1 985.1 477.7 987.3 477.8 988.5C478 989.6 478.9 989.4 478.8 990.2C478.7 991 477.4 992.8 477.1 993.3"/>
<path d="M497.3 970.5C496.3 971.2 493.1 972.9 491.1 974.7C489.1 976.5 486.8 979.2 485.2 981.4C483.7 983.6 482.8 986 481.7 987.9C480.6 989.7 479.3 991.8 478.8 992.6"/>
<path d="M489.1 980L492.6 982.7M481.1 993.2L485.4 995.6"/>
<path d="M511.9 972.6C510.7 973 507 973.8 504.6 975C502.2 976.1 499.4 977.4 497.3 979.7C495.3 981.9 493.6 985 492.3 988.5C491 991.9 489.8 998.2 489.3 1000.2"/>
<path d="M489.3 1000.2C490.5 999.5 494.1 997.2 496.4 995.7C498.7 994.3 501.1 992.5 503.2 991.6C505.4 990.8 507.5 991.6 509.3 990.8C511.1 990 511.4 988.5 513.8 986.9C516.1 985.4 521.8 982.3 523.4 981.4"/>
<path d="M523.4 981.4C522.4 980.8 519.1 978.7 517.5 977.5C515.9 976.4 514.6 975.6 513.8 974.4C512.9 973.2 512.7 970.9 512.5 970.3"/>
<path d="M503.7 981.4V987.3M512.9 979.4V983.4"/>
<path d="M498.7 967.3C499 967.1 500.1 966.7 500.5 966.2C500.9 965.6 501.2 964.2 501.3 963.8"/>
<path d="M509.1 963.8C509.5 964.2 511.1 965.1 511.7 966.2C512.2 967.2 512.3 969.6 512.5 970.3"/>
<path d="M499.7 969.1C500.5 974.4 508.4 974.4 509.3 969.1"/>
<path d="M501.3 968.9C501.8 972.1 507.2 972.1 507.7 968.9"/>
<path d="M504.5 970L504.5 893"/>
<path d="M560.2 995.8L599 1033.8"/>
</g>
<g>
<path d="M398.6 654.8L410.3 654.9L409.4 659.4Z" fill="#111"/>
<path d="M98.2 1077.4L89.3 1070.5L93.1 1067.3Z" fill="#111"/>
<path d="M435.6 1107.6L430.1 1117.4L426.4 1114.1Z" fill="#111"/>
</g>
<g class="tx">
<text class="n" transform="translate(360.6 138.2) scale(0.7 1)" font-size="20.6">1</text>
<text class="n" transform="translate(371.1 277.3) scale(0.7 1)" font-size="20.6">2</text>
<text class="n" transform="translate(371.3 478.6) scale(0.7 1)" font-size="20.6">4</text>
<text class="n" transform="translate(259.5 477) scale(0.7 1)" font-size="20.6">5</text>
<text class="n" transform="translate(280.9 529.1) scale(0.7 1)" font-size="20.6">6</text>
<text class="n" transform="translate(284.3 573.3) scale(0.7 1)" font-size="20.6">7</text>
<text class="n" transform="translate(434.1 622.9) scale(0.7 1)" font-size="20.6">8</text>
<text class="t" x="453.5" y="550.4" font-size="16.9" textLength="116.6" lengthAdjust="spacing">M10x1.25x45</text>
<text class="t" x="454.1" y="570.8" font-size="16.9" textLength="21.3" lengthAdjust="spacing">40</text>
<text class="t" x="487.8" y="570.8" font-size="16.9" textLength="28" lengthAdjust="spacing">Nm</text>
<text class="t" x="478.9" y="670.2" font-size="16.5" textLength="7.8" lengthAdjust="spacing">L</text>
<text class="t" x="464.9" y="691.2" font-size="17.3" textLength="44.2" lengthAdjust="spacing">1277</text>
<text class="n" transform="translate(351.5 658.3) scale(0.7 1)" font-size="20.6">9</text>
<text class="n" transform="translate(352.3 693.5) scale(0.655 1)" font-size="20.6">10</text>
<text class="n" transform="translate(57.5 866.4) scale(0.655 1)" font-size="20.6">11</text>
<text class="n" transform="translate(37.5 1019.4) scale(0.655 1)" font-size="20.6">12</text>
<text class="n" transform="translate(372.1 1072.4) scale(0.655 1)" font-size="20.6">15</text>
<text class="n" transform="translate(37.9 1132) scale(0.655 1)" font-size="20.6">13</text>
<text class="n" transform="translate(493.3 1116.2) scale(0.655 1)" font-size="20.6">14</text>
<text class="t" x="24.7" y="1052.8" font-size="16.5" textLength="7.8" lengthAdjust="spacing">L</text>
<text class="t" x="10.7" y="1073.8" font-size="17.3" textLength="44" lengthAdjust="spacing">1277</text>
<text class="t" x="331.7" y="1175.6" font-size="16.5" textLength="7.8" lengthAdjust="spacing">L</text>
<text class="t" x="317.9" y="1196.3" font-size="17.3" textLength="44" lengthAdjust="spacing">1277</text>
<text class="t" x="162.7" y="1190.6" font-size="16.9" textLength="116.6" lengthAdjust="spacing">M10x1.25x40</text>
<text class="t" x="163.5" y="1210.8" font-size="16.9" textLength="21.3" lengthAdjust="spacing">40</text>
<text class="t" x="197.2" y="1210.8" font-size="16.9" textLength="28" lengthAdjust="spacing">Nm</text>
<text class="t" x="672.1" y="601.8" font-size="17.1" textLength="21.3" lengthAdjust="spacing">35</text>
<text class="t" x="705.5" y="601.8" font-size="17.1" textLength="27.6" lengthAdjust="spacing">Nm</text>
<text class="n" transform="translate(597.5 911.9) scale(0.655 1)" font-size="20.6">17</text>
<text class="n" transform="translate(793.3 939.9) scale(0.655 1)" font-size="20.6">18</text>
<text class="n" transform="translate(817 785.4) scale(0.655 1)" font-size="20.6">19</text>
<text class="n" transform="translate(852.7 752.3) scale(0.655 1)" font-size="20.6">20</text>
<text class="n" transform="translate(888.5 738.7) scale(0.655 1)" font-size="20.6">21</text>
<text class="n" transform="translate(826.9 614.9) scale(0.655 1)" font-size="20.6">22</text>
<text class="n" transform="translate(600.5 1043.4) scale(0.62 1)" font-size="29.1">16</text>
</g>
</svg>
</body></html>
